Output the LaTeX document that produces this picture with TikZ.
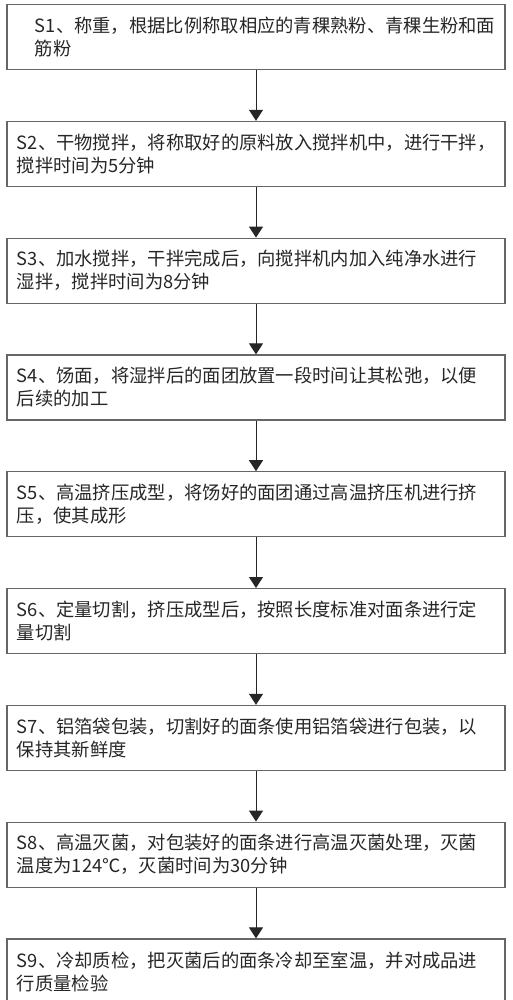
\documentclass[tikz,border=0pt]{standalone}
\usepackage{fontspec}
\setmainfont{Noto Sans CJK SC}
\usepackage{tikz}
\usetikzlibrary{arrows.meta, positioning}

\begin{document}
\begin{tikzpicture}[node distance=50.6pt, >={Triangle[width=14pt,length=11pt]}, font=\fontsize{18.3}{23}\selectfont]
    \tikzstyle{block} = [draw=black!60, rectangle, line width=1.2pt, text width=478pt, align=left, inner xsep=10pt, minimum height=65pt, text=black!85]
    \tikzstyle{flow} = [->, line width=1pt, draw=black!85]

    \useasboundingbox (-256pt,0pt) rectangle (256pt,-1000pt);

    \node [block, anchor=north] (s1) at (0pt,-4pt) {\hspace*{18pt}S1、称重，根据比例称取相应的青稞熟粉、青稞生粉和面\\\hspace*{18pt}筋粉};
    \node [block, below=of s1] (s2) {S2、干物搅拌，将称取好的原料放入搅拌机中，进行干拌，\\搅拌时间为5分钟};
    \node [block, below=of s2] (s3) {S3、加水搅拌，干拌完成后，向搅拌机内加入纯净水进行\\湿拌，搅拌时间为8分钟};
    \node [block, below=of s3] (s4) {S4、饧面，将湿拌后的面团放置一段时间让其松弛，以便\\后续的加工};
    \node [block, below=of s4] (s5) {S5、高温挤压成型，将饧好的面团通过高温挤压机进行挤\\压，使其成形};
    \node [block, below=of s5] (s6) {S6、定量切割，挤压成型后，按照长度标准对面条进行定\\量切割};
    \node [block, below=of s6] (s7) {S7、铝箔袋包装，切割好的面条使用铝箔袋进行包装，以\\保持其新鲜度};
    \node [block, below=of s7] (s8) {S8、高温灭菌，对包装好的面条进行高温灭菌处理，灭菌\\温度为124℃，灭菌时间为30分钟};
    \node [block, below=of s8] (s9) {S9、冷却质检，把灭菌后的面条冷却至室温，并对成品进\\行质量检验};

    \draw [flow] (s1) -- (s2);
    \draw [flow] (s2) -- (s3);
    \draw [flow] (s3) -- (s4);
    \draw [flow] (s4) -- (s5);
    \draw [flow] (s5) -- (s6);
    \draw [flow] (s6) -- (s7);
    \draw [flow] (s7) -- (s8);
    \draw [flow] (s8) -- (s9);
\end{tikzpicture}
\end{document}
